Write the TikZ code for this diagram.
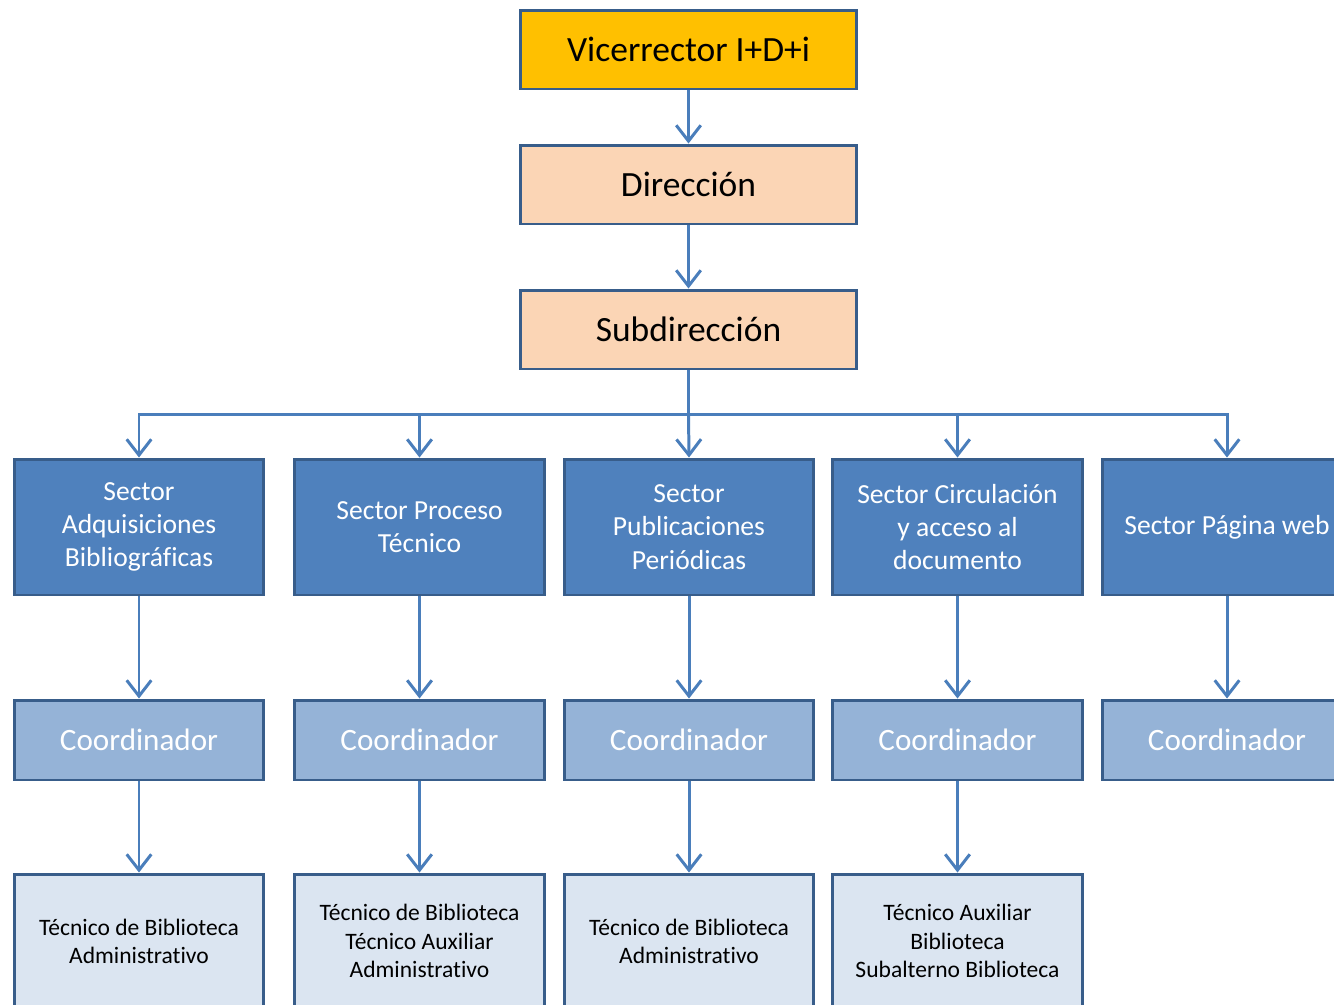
\documentclass[tikz,border=0pt]{standalone}
\usepackage{fontspec}
\setmainfont{Carlito}[RawFeature=-liga]
\usetikzlibrary{arrows.meta}
\definecolor{boxline}{HTML}{385D8A}
\definecolor{arrowline}{HTML}{4A7EBB}
\definecolor{vicefill}{HTML}{FFC000}
\definecolor{dirfill}{HTML}{FBD5B5}
\definecolor{sectorfill}{HTML}{4F81BD}
\definecolor{coordfill}{HTML}{95B3D7}
\definecolor{tecfill}{HTML}{DBE5F1}
\tikzset{
  box/.style={draw=boxline, line width=1.7pt, align=center, inner sep=2pt},
  topbox/.style={box, minimum width=6.74cm, minimum height=1.58cm, font=\fontsize{20.2}{24}\selectfont},
  sectorbox/.style={box, fill=sectorfill, text=white, minimum width=5cm, minimum height=2.72cm, font=\fontsize{15.7}{19}\selectfont},
  coordbox/.style={box, fill=coordfill, text=white, minimum width=5cm, minimum height=1.6cm, font=\fontsize{17.7}{20}\selectfont},
  tecbox/.style={box, fill=tecfill, minimum width=5cm, minimum height=2.68cm, font=\fontsize{13.4}{16}\selectfont},
  arr/.style={draw=arrowline, line width=1.7pt, -{Straight Barb[length=9pt, width=14pt, line width=1.7pt]}},
  bus/.style={draw=arrowline, line width=1.7pt}
}
\begin{document}
\begin{tikzpicture}[x=0.02cm, y=-0.02cm]
  \useasboundingbox (0,0) rectangle (1334,1004);
  \clip (0,0) rectangle (1334,1004);
  % top of the chart
  \node [topbox, fill=vicefill] (vice) at (688.5,49.5) {Vicerrector I+D+i};
  \node [topbox, fill=dirfill] (dir) at (688.5,184.5) {Dirección};
  \node [topbox, fill=dirfill] (sub) at (688.5,329.5) {Subdirección};
  \draw [arr] (vice) -- (dir);
  \draw [arr] (dir) -- (sub);
  % sectors
  \node [sectorbox] (s1) at (139,527) {Sector\\Adquisiciones\\Bibliográficas};
  \node [sectorbox] (s2) at (419.5,527) {Sector Proceso\\Técnico};
  \node [sectorbox] (s3) at (689,527) {Sector\\Publicaciones\\Periódicas};
  \node [sectorbox] (s4) at (957.5,527) {Sector Circulación\\y acceso al\\documento};
  \node [sectorbox] (s5) at (1227,527) {Sector Página web};
  \coordinate (bus) at (688.5,414);
  \draw [bus] (sub) -- (bus);
  \draw [arr] (bus) -| (s1.north);
  \draw [arr] (bus) -| (s2.north);
  \draw [arr] (bus) -- (s3.north);
  \draw [arr] (bus) -| (s4.north);
  \draw [arr] (bus) -| (s5.north);
  % coordinators
  \node [coordbox] (c1) at (139,740) {Coordinador};
  \node [coordbox] (c2) at (419.5,740) {Coordinador};
  \node [coordbox] (c3) at (689,740) {Coordinador};
  \node [coordbox] (c4) at (957.5,740) {Coordinador};
  \node [coordbox] (c5) at (1227,740) {Coordinador};
  \draw [arr] (s1) -- (c1);
  \draw [arr] (s2) -- (c2);
  \draw [arr] (s3) -- (c3);
  \draw [arr] (s4) -- (c4);
  \draw [arr] (s5) -- (c5);
  % staff
  \node [tecbox] (t1) at (139,941) {Técnico de Biblioteca\\Administrativo};
  \node [tecbox] (t2) at (419.5,941) {Técnico de Biblioteca\\Técnico Auxiliar\\Administrativo};
  \node [tecbox] (t3) at (689,941) {Técnico de Biblioteca\\Administrativo};
  \node [tecbox] (t4) at (957.5,941) {Técnico Auxiliar\\Biblioteca\\Subalterno Biblioteca};
  \draw [arr] (c1) -- (t1);
  \draw [arr] (c2) -- (t2);
  \draw [arr] (c3) -- (t3);
  \draw [arr] (c4) -- (t4);
\end{tikzpicture}
\end{document}
